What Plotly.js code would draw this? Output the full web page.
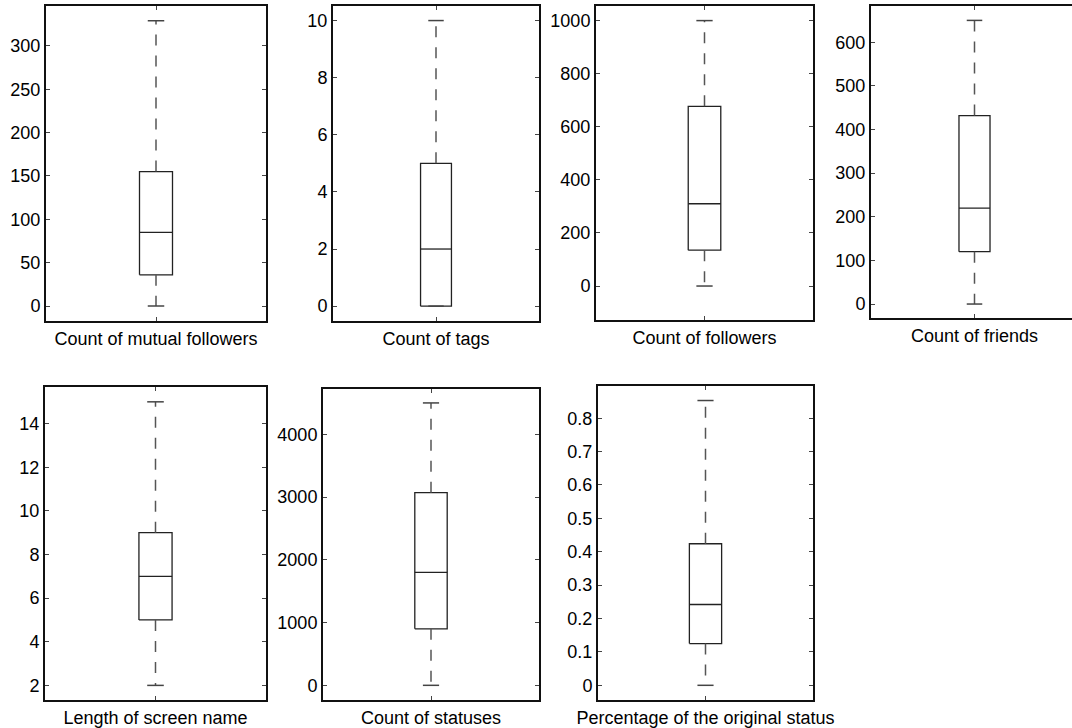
<!DOCTYPE html>
<html>
<head>
<meta charset="utf-8">
<script src="https://cdn.plot.ly/plotly-3.0.1.min.js"></script>
<style>
html,body{margin:0;padding:0;overflow:hidden;background:#fff;}
#chart{width:1085px;height:728px;}
</style>
</head>
<body>
<div id="chart"></div>
<script>
// ---- data ----
const labels = ["Count of mutual followers","Count of tags","Count of followers","Count of friends",
                "Length of screen name","Count of statuses","Percentage of the original status"];
const whiskerLow  = [0,   0,  0,    0,   2,  0,    0];
const q1          = [36,  0,  135,  120, 5,  900,  0.125];
const median      = [85,  2,  310,  220, 7,  1800, 0.242];
const q3          = [155, 5,  677,  432, 9,  3070, 0.424];
const whiskerHigh = [329, 10, 1000, 650, 15, 4500, 0.853];

// y-axis ranges and tick steps
const yRanges = [[-17.3,346],[-0.52,10.51],[-128,1055],[-32,683],[1.33,15.68],[-234,4722],[-0.044,0.8965]];
const yDticks = [50, 2, 200, 100, 2, 1000, 0.1];

// ---- layout geometry (pixels) ----
const W = 1085, H = 728;
const boxesPx = [
  [46,266,6,321],[333,539,6,321],[596,813,6,320],[871,1078,6,318],
  [45,266,387,700],[323,539,389,700],[598,813,386,700]
];

const traces = [];
const layout = {
  width: W, height: H,
  margin: {l:0,r:0,t:0,b:0},
  paper_bgcolor:'#fff', plot_bgcolor:'#fff',
  showlegend:false,
  font:{family:'"Liberation Sans", Arial, Helvetica, sans-serif', color:'#000', size:18}
};

const hw = 0.075, cw = 0.0375;
for (let i=0;i<labels.length;i++){
  const n = i===0 ? '' : String(i+1);
  const xa = 'x'+n, ya = 'y'+n;
  // box
  traces.push({type:'scatter',mode:'lines',xaxis:xa,yaxis:ya,hoverinfo:'skip',
    x:[1-hw,1+hw,1+hw,1-hw,1-hw], y:[q1[i],q1[i],q3[i],q3[i],q1[i]],
    line:{color:'#222',width:1.3}});
  // median
  traces.push({type:'scatter',mode:'lines',xaxis:xa,yaxis:ya,hoverinfo:'skip',
    x:[1-hw,1+hw], y:[median[i],median[i]], line:{color:'#222',width:1.3}});
  // whiskers (dashed)
  traces.push({type:'scatter',mode:'lines',xaxis:xa,yaxis:ya,hoverinfo:'skip',
    x:[1,1], y:[q3[i],whiskerHigh[i]], line:{color:'#555',width:1.5,dash:'11px,10px'}});
  traces.push({type:'scatter',mode:'lines',xaxis:xa,yaxis:ya,hoverinfo:'skip',
    x:[1,1], y:[q1[i],whiskerLow[i]], line:{color:'#555',width:1.5,dash:'11px,10px'}});
  // caps
  traces.push({type:'scatter',mode:'lines',xaxis:xa,yaxis:ya,hoverinfo:'skip',
    x:[1-cw,1+cw,null,1-cw,1+cw], y:[whiskerHigh[i],whiskerHigh[i],null,whiskerLow[i],whiskerLow[i]],
    line:{color:'#444',width:1.5}});

  const b = boxesPx[i];
  layout['xaxis'+n] = {
    domain:[b[0]/W, b[1]/W], range:[0.5,1.5], anchor:ya,
    tickmode:'array', tickvals:[1], ticktext:[labels[i]],
    ticks:'inside', ticklen:4, tickwidth:1, tickcolor:'#444',
    showline:true, linecolor:'#111', linewidth:2, mirror:'ticks',
    showgrid:false, zeroline:false, fixedrange:true,
    tickfont:{size:18}
  };
  layout['yaxis'+n] = {
    domain:[1-b[3]/H, 1-b[2]/H], range:yRanges[i], anchor:xa,
    tickmode:'linear', dtick:yDticks[i], tick0:0,
    ticks:'inside', ticklen:4, tickwidth:1, tickcolor:'#444',
    showline:true, linecolor:'#111', linewidth:2, mirror:'ticks',
    showgrid:false, zeroline:false, fixedrange:true,
    tickfont:{size:18}
  };
}
Plotly.newPlot('chart', traces, layout, {staticPlot:true, displayModeBar:false});
</script>
</body>
</html>
